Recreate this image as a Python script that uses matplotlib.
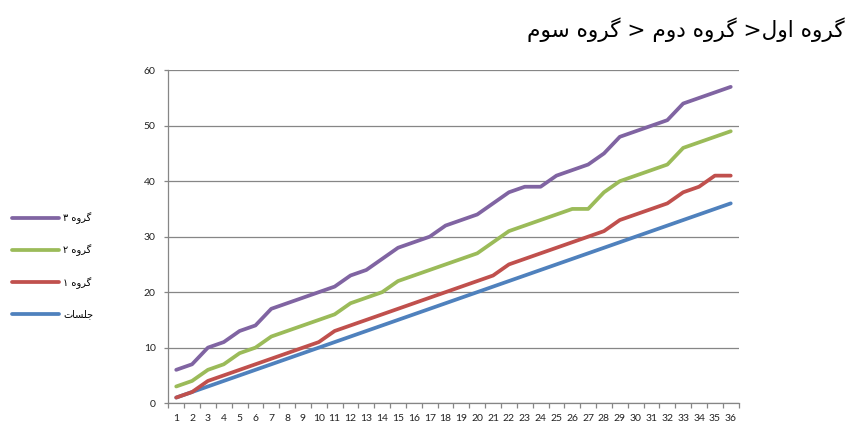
import matplotlib
matplotlib.use("Agg")
import matplotlib.pyplot as plt

# ---------------- data ----------------
sessions = list(range(1, 37))
x_labels = [str(i) for i in range(1, 37)]
jalasat = [1, 2, 3, 4, 5, 6, 7, 8, 9, 10, 11, 12, 13, 14, 15, 16, 17, 18,
           19, 20, 21, 22, 23, 24, 25, 26, 27, 28, 29, 30, 31, 32, 33, 34, 35, 36]
group1 = [1, 2, 4, 5, 6, 7, 8, 9, 10, 11, 13, 14, 15, 16, 17, 18, 19, 20,
          21, 22, 23, 25, 26, 27, 28, 29, 30, 31, 33, 34, 35, 36, 38, 39, 41, 41]
group2 = [3, 4, 6, 7, 9, 10, 12, 13, 14, 15, 16, 18, 19, 20, 22, 23, 24, 25,
          26, 27, 29, 31, 32, 33, 34, 35, 35, 38, 40, 41, 42, 43, 46, 47, 48, 49]
group3 = [6, 7, 10, 11, 13, 14, 17, 18, 19, 20, 21, 23, 24, 26, 28, 29, 30, 32,
          33, 34, 36, 38, 39, 39, 41, 42, 43, 45, 48, 49, 50, 51, 54, 55, 56, 57]
series_names = ["جلسات", "گروه ۱", "گروه ۲", "گروه ۳"]
title_text = "گروه اول< گروه دوم < گروه سوم"
y_ticks = [0, 10, 20, 30, 40, 50, 60]

colors = ["#4F81BD", "#C0504D", "#9BBB59", "#8064A2"]

# ------------- simple Arabic/Persian shaping for display -------------
FORMS = {
    "گ": ("\uFB92", "\uFB93", "\uFB94", "\uFB95"),
    "ر": ("\uFEAD", "\uFEAE"),
    "و": ("\uFEED", "\uFEEE"),
    "ه": ("\uFEE9", "\uFEEA", "\uFEEB", "\uFEEC"),
    "ا": ("\uFE8D", "\uFE8E"),
    "ل": ("\uFEDD", "\uFEDE", "\uFEDF", "\uFEE0"),
    "د": ("\uFEA9", "\uFEAA"),
    "م": ("\uFEE1", "\uFEE2", "\uFEE3", "\uFEE4"),
    "س": ("\uFEB1", "\uFEB2", "\uFEB3", "\uFEB4"),
    "ج": ("\uFE9D", "\uFE9E", "\uFE9F", "\uFEA0"),
    "ت": ("\uFE95", "\uFE96", "\uFE97", "\uFE98"),
}
MIRROR = {"<": ">", ">": "<", "(": ")", ")": "("}


def shape(text):
    out = []
    n = len(text)
    for i, ch in enumerate(text):
        if ch not in FORMS:
            out.append(MIRROR.get(ch, ch))
            continue
        f = FORMS[ch]
        prev_join = i > 0 and text[i - 1] in FORMS and len(FORMS[text[i - 1]]) == 4
        next_join = len(f) == 4 and i + 1 < n and text[i + 1] in FORMS
        if prev_join and next_join:
            out.append(f[3])
        elif prev_join:
            out.append(f[1])
        elif next_join:
            out.append(f[2])
        else:
            out.append(f[0])
    return "".join(out)[::-1]


# ---------------- figure ----------------
fig = plt.figure(figsize=(8.5, 4.23), dpi=100)
ax = fig.add_axes([0.198, 0.047, 0.671, 0.787])

series = [jalasat, group1, group2, group3]
handles = []
for vals, c, name in zip(series, colors, series_names):
    h, = ax.plot(sessions, vals, color=c, lw=2.7, solid_capstyle="round",
                 solid_joinstyle="round", label=shape(name))
    handles.append(h)

ax.set_xlim(0.5, 36.5)
ax.set_ylim(0, 60)
ax.set_yticks(y_ticks)
ax.set_yticklabels([str(v) for v in y_ticks])
ax.set_xticks(sessions)
ax.set_xticklabels(x_labels)
ax.set_xticks([i + 0.5 for i in range(0, 37)], minor=True)

ax.grid(axis="y", color="#868686", lw=0.9)
ax.set_axisbelow(True)
for s in ["top", "right"]:
    ax.spines[s].set_visible(False)
for s in ["left", "bottom"]:
    ax.spines[s].set_color("#868686")
    ax.spines[s].set_linewidth(0.9)

ax.tick_params(axis="x", which="major", length=0, pad=8, labelsize=7.5,
               labelcolor="#222222")
ax.tick_params(axis="x", which="minor", length=3.5, color="#868686", width=0.9)
ax.tick_params(axis="y", length=3, color="#868686", width=0.9, pad=6,
               labelsize=7.5, labelcolor="#222222")
for lab in ax.get_xticklabels() + ax.get_yticklabels():
    lab.set_family("Lato")

leg = fig.legend(handles[::-1], [h.get_label() for h in handles[::-1]],
                 loc="center left", bbox_to_anchor=(0.004, 0.372),
                 frameon=False, fontsize=7, handlelength=4.8,
                 handletextpad=0.45, labelspacing=2.1)
for t in leg.get_texts():
    t.set_family("DejaVu Sans")
for l in leg.get_lines():
    l.set_linewidth(2.7)
    l.set_solid_capstyle("round")

fig.text(0.994, 0.93, shape(title_text), ha="right", va="center",
         fontsize=15.6, family="DejaVu Sans", color="black")

fig.savefig("out.png", dpi=100)
